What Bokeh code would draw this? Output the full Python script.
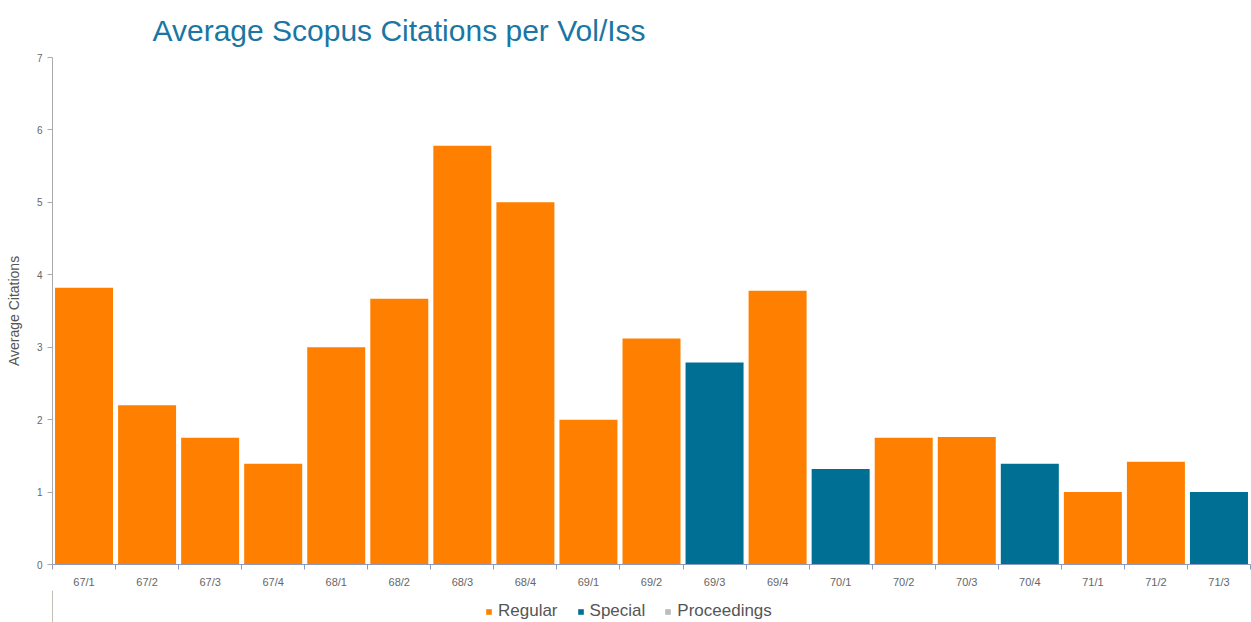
from bokeh.plotting import figure
from bokeh.layouts import column
from bokeh.models import ColumnDataSource, FixedTicker, Range1d, Legend, LegendItem
from bokeh.embed import file_html
from bokeh.resources import INLINE

issues = ["67/1", "67/2", "67/3", "67/4", "68/1", "68/2", "68/3", "68/4", "69/1", "69/2",
          "69/3", "69/4", "70/1", "70/2", "70/3", "70/4", "71/1", "71/2", "71/3"]
avg_citations = [3.82, 2.20, 1.75, 1.39, 3.00, 3.67, 5.78, 5.00, 2.00, 3.12,
                 2.79, 3.78, 1.32, 1.75, 1.76, 1.39, 1.00, 1.42, 1.00]
issue_type = ["Regular", "Regular", "Regular", "Regular", "Regular", "Regular", "Regular", "Regular",
              "Regular", "Regular", "Special", "Regular", "Special", "Regular", "Regular", "Special",
              "Regular", "Regular", "Special"]
type_names = ["Regular", "Special", "Proceedings"]
type_colors = {"Regular": "#FF8000", "Special": "#006F94", "Proceedings": "#BBBBBB"}

FONT = "Liberation Sans"

p = figure(width=1251, height=590, output_backend="svg", toolbar_location=None,
           x_range=Range1d(0, len(issues)), y_range=Range1d(0, 7),
           min_border_left=52, min_border_right=1, min_border_top=55, min_border_bottom=26)

p.title.text = "Average Scopus Citations per Vol/Iss"
p.title.text_font = FONT
p.title.text_font_size = "30px"
p.title.text_font_style = "normal"
p.title.text_color = "#1A76A2"
p.title.offset = 100
p.title.standoff = 22

p.outline_line_color = None
p.xgrid.visible = False
p.ygrid.visible = False
p.background_fill_color = "white"
p.border_fill_color = "white"

for t in type_names:
    xs = [i + 0.5 for i, k in enumerate(issue_type) if k == t]
    ys = [v for v, k in zip(avg_citations, issue_type) if k == t]
    if xs:
        src = ColumnDataSource(dict(x=xs, top=ys))
        p.vbar(x="x", top="top", width=0.92, bottom=0, source=src,
               fill_color=type_colors[t], line_color=None)

# x axis
p.xaxis.ticker = FixedTicker(ticks=[i + 0.5 for i in range(len(issues))],
                             minor_ticks=list(range(len(issues) + 1)))
p.xaxis.major_label_overrides = {i + 0.5: lab for i, lab in enumerate(issues)}
p.xaxis.major_tick_out = 0
p.xaxis.major_tick_in = 0
p.xaxis.minor_tick_out = 5
p.xaxis.minor_tick_in = 0
p.xaxis.minor_tick_line_color = "#8C9BBF"
p.xaxis.axis_line_color = "#8C9BBF"
p.xaxis.major_label_text_font = FONT
p.xaxis.major_label_text_font_size = "11px"
p.xaxis.major_label_text_color = "#666666"
p.xaxis.major_label_standoff = 6

# y axis
p.yaxis.ticker = FixedTicker(ticks=list(range(0, 8)))
p.yaxis.minor_tick_line_color = None
p.yaxis.major_tick_out = 5
p.yaxis.major_tick_in = 0
p.yaxis.major_tick_line_color = "#AAAAAA"
p.yaxis.axis_line_color = "#AAAAAA"
p.yaxis.major_label_text_font = FONT
p.yaxis.major_label_text_font_size = "10px"
p.yaxis.major_label_text_color = "#666666"
p.yaxis.axis_label = "Average Citations"
p.yaxis.axis_label_text_font = FONT
p.yaxis.axis_label_text_font_size = "14px"
p.yaxis.axis_label_text_font_style = "normal"
p.yaxis.axis_label_text_color = "#555555"
p.yaxis.axis_label_standoff = 12

# legend strip below the chart
lf = figure(width=1251, height=32, output_backend="svg", toolbar_location=None,
            x_range=Range1d(0, 1), y_range=Range1d(0, 1),
            x_axis_location=None, y_axis_location=None,
            min_border_left=0, min_border_right=0, min_border_top=0, min_border_bottom=0)
lf.xgrid.visible = False
lf.ygrid.visible = False
lf.outline_line_color = None
items = []
for t in type_names:
    r = lf.vbar(x=[-5.0], top=[1.0], width=0.5, fill_color=type_colors[t], line_color=None)
    items.append(LegendItem(label=t, renderers=[r]))
legend = Legend(items=items, orientation="horizontal", location=(433, 1),
                label_text_font=FONT, label_text_font_size="17px", label_text_color="#555555",
                glyph_width=7, glyph_height=7, label_standoff=6, spacing=19, label_height=17,
                padding=0, margin=0, border_line_color=None, background_fill_alpha=0)
lf.add_layout(legend, "center")

layout = column(p, lf, spacing=0)
open("out.html", "w").write(file_html(layout, INLINE))
